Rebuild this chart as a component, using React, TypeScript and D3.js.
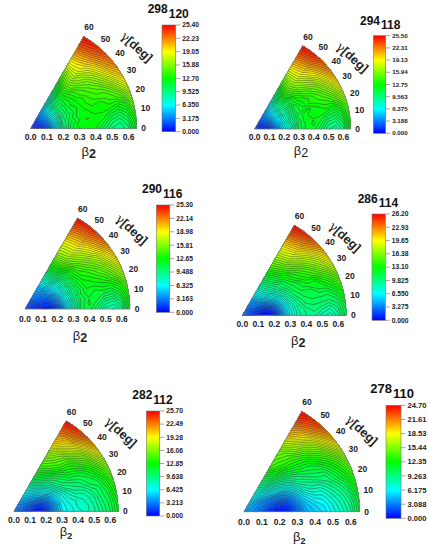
import React from 'react';
import * as d3 from 'd3';

// gamma rows 0..60 (step 5), beta columns 0..0.65 (step 0.05), energies in MeV
const betaValues = d3.range(14).map((i) => i * 0.05);
const gammaValues = d3.range(13).map((i) => i * 5);
const gammaTicks = [0, 10, 20, 30, 40, 50, 60];
const betaTicks = [0, 0.1, 0.2, 0.3, 0.4, 0.5, 0.6];

const energy298 = [
  [0.6, 0.8, 1.8, 5, 9, 11.5, 12.3, 12.6, 12.2, 11, 9.6, 9.2, 10, 12.5],
  [0.6, 0.9, 2.1, 5.6, 9.4, 11.4, 12.5, 12.4, 12.6, 11.8, 10.4, 9.8, 10.8, 13],
  [0.6, 1, 2.4, 5.8, 9.8, 11, 12.1, 12.8, 12.4, 12.6, 11.6, 11, 12, 14],
  [0.6, 1.1, 2.6, 6.2, 9.6, 11.4, 12.4, 12.3, 12.9, 12.8, 12.9, 12.4, 13.2, 15.5],
  [0.6, 1.2, 2.9, 6.4, 10, 11, 12.2, 12.7, 13.2, 12.8, 13.6, 14, 15, 17],
  [0.6, 1.3, 3.1, 6.8, 9.6, 11.4, 12, 13, 13.5, 14, 14, 15, 16.8, 18.6],
  [0.6, 1.4, 3.3, 7, 10, 11.2, 12.6, 12.8, 13.8, 14.4, 15, 16.5, 18.3, 20],
  [0.6, 1.5, 3.5, 7, 9.8, 11.6, 12.4, 13.6, 14.2, 15, 16.2, 17.8, 19.8, 21.4],
  [0.6, 1.5, 3.6, 7, 10, 11.4, 12.8, 13.8, 15, 15.8, 17.2, 19, 21, 22.6],
  [0.6, 1.5, 3.6, 6.6, 9.6, 11.6, 13.2, 14.8, 16, 16.9, 18.2, 20, 22, 23.6],
  [0.6, 1.5, 3.6, 6.4, 9.2, 11.4, 13.4, 15.2, 16.8, 18.2, 19.3, 21, 23, 24.5],
  [0.6, 1.5, 3.5, 5.8, 8, 10.2, 12.4, 14.6, 16.6, 18.4, 19.8, 21.6, 23.6, 25],
  [0.6, 1.5, 3.4, 5, 6.5, 9, 11, 13.4, 15.8, 18.2, 20, 22, 24, 25.4],
];
const energy294 = [
  [0.8, 0.6, 1, 3.4, 6, 8.5, 10.8, 12, 12, 10.8, 9.2, 8.8, 10, 13],
  [0.8, 0.7, 1.3, 3.8, 6.4, 8.2, 11, 11.8, 12.4, 11.4, 10, 9.6, 10.8, 13.5],
  [0.8, 0.8, 1.6, 4.2, 7, 8.8, 10.6, 12.2, 12.2, 12.2, 11.2, 10.8, 12, 14.2],
  [0.8, 0.9, 1.9, 4.6, 6.8, 9.2, 11.2, 11.9, 12.7, 12.4, 12.6, 12, 13.2, 15.2],
  [0.8, 1, 2.2, 4.8, 7.4, 9, 10.8, 12.4, 12.2, 12.8, 13.4, 13.8, 15, 16.6],
  [0.8, 1.1, 2.5, 5.2, 7.2, 9.6, 11.4, 12, 13.2, 13.6, 14, 15, 16.6, 18.4],
  [0.8, 1.2, 2.8, 5.4, 8, 9.4, 11, 12.6, 13, 13.8, 14.8, 16.2, 18, 20],
  [0.8, 1.3, 3, 5.8, 7.8, 10, 11.8, 12.8, 14, 14.8, 15.8, 17.4, 19.4, 21.4],
  [0.8, 1.4, 3.2, 5.8, 8.4, 10, 11.6, 13.6, 15, 16, 17, 18.6, 20.6, 22.6],
  [0.8, 1.5, 3.2, 5.6, 8, 10.4, 12.6, 14.4, 16, 17, 18.4, 19.8, 21.8, 23.6],
  [0.8, 1.5, 3.2, 5.4, 7.8, 10.6, 13, 15, 16.6, 18, 19.4, 21, 23, 24.6],
  [0.8, 1.5, 3.1, 5, 7, 9.6, 12, 14.4, 16.4, 18.2, 19.8, 21.6, 23.6, 25.1],
  [0.8, 1.5, 3, 4.6, 6.2, 8.6, 11, 13.6, 16, 18.2, 20, 22, 24, 25.5],
];
const energy290 = [
  [1.5, 1, 0.5, 0.5, 1.6, 5, 8.4, 11, 11.4, 10, 8.4, 8, 9.4, 12.4],
  [1.5, 1.1, 0.7, 0.8, 2, 5.4, 8.2, 10.8, 11.8, 10.8, 9.4, 9, 10.4, 13],
  [1.5, 1.2, 1, 1.2, 2.8, 5.8, 8.8, 10.6, 11.6, 11.6, 10.8, 10.6, 11.8, 13.8],
  [1.5, 1.3, 1.2, 1.6, 3.2, 6.4, 8.6, 11, 12, 11.6, 12, 12, 13, 15],
  [1.5, 1.4, 1.6, 2.2, 3.8, 6.6, 9.4, 10.8, 12.2, 12.4, 12.8, 13.6, 15, 16.6],
  [1.5, 1.5, 1.8, 2.6, 4.4, 7.2, 9.2, 11.4, 12.4, 13, 13.8, 14.8, 16.4, 18.3],
  [1.5, 1.6, 2.2, 3.2, 5.2, 7.2, 9.8, 11.4, 13, 13.6, 14.6, 16, 18, 20],
  [1.5, 1.7, 2.4, 3.4, 5.4, 7.8, 9.8, 12, 13.4, 14.6, 15.8, 17.2, 19.2, 21.2],
  [1.5, 1.8, 2.8, 3.8, 5.8, 8, 10.4, 12.2, 14, 15.6, 17, 18.6, 20.6, 22.5],
  [1.5, 2, 3, 4, 6.2, 8.8, 11, 13.2, 15.2, 16.6, 18, 19.6, 21.6, 23.5],
  [1.5, 2.1, 3.2, 4.4, 6.8, 9.2, 11.8, 14, 16, 17.6, 19, 20.6, 22.6, 24.5],
  [1.5, 2.1, 3.2, 4.6, 6.8, 9.4, 12, 14.4, 16.4, 17.8, 19.3, 21, 23, 24.9],
  [1.5, 2.1, 3.2, 4.8, 6.8, 9.4, 12.2, 14.6, 16.6, 18, 19.6, 21.6, 23.6, 25.3],
];
const energy286 = [
  [2.5, 1.5, 0.8, 0.2, 0.9, 4.2, 7, 8.6, 9.4, 9.6, 8.6, 8, 9.2, 11.4],
  [2.5, 1.6, 0.9, 0.3, 1.2, 4.4, 7, 8.8, 9.6, 10.2, 9.6, 9, 10, 11.8],
  [2.5, 1.8, 1.1, 0.7, 1.8, 4.8, 7.4, 9, 10.4, 10.6, 10.6, 10.4, 11, 12.8],
  [2.5, 1.9, 1.3, 1.3, 2.6, 5.2, 8, 9.6, 10.8, 11.2, 11.2, 11.2, 12.2, 14],
  [2.5, 2, 1.7, 2.2, 3.8, 6, 8.4, 10.4, 11.2, 11.2, 12.2, 12.6, 13.6, 15.2],
  [2.5, 2.1, 2.2, 3, 4.8, 6.8, 9, 10.8, 11.8, 12.4, 12.4, 13.8, 15.2, 17.2],
  [2.5, 2.2, 2.7, 3.8, 5.8, 7.8, 9.6, 11.2, 12, 13.2, 14.2, 15.4, 17, 19],
  [2.5, 2.4, 3, 4.6, 6.4, 8.4, 10.4, 11.6, 13, 14, 15.2, 16.8, 18.4, 20.6],
  [2.5, 2.5, 3.2, 5.2, 7.4, 9.2, 10.6, 12.2, 13.6, 15, 16.6, 18, 20, 22],
  [2.5, 2.6, 3.4, 5.6, 7.8, 9.6, 11.4, 13, 14.8, 16.4, 17.8, 19.6, 21.6, 23.6],
  [2.5, 2.7, 3.7, 5.8, 8.2, 10.2, 11.8, 13.8, 15.6, 17.6, 19, 21, 23, 25],
  [2.5, 2.9, 4, 6, 8.2, 10.4, 12.4, 14.4, 16.2, 18, 19.6, 21.6, 23.8, 25.7],
  [2.5, 3, 4.2, 6.2, 8.4, 10.8, 12.8, 14.8, 16.6, 18.2, 20, 22, 24.5, 26.2],
];
const energy282 = [
  [3, 2.2, 1.2, 0.3, 1.2, 3.8, 6, 7, 7.4, 8, 8.6, 9.6, 10.8, 12.4],
  [3, 2.3, 1.4, 0.5, 1.4, 3.9, 6.4, 7, 7.8, 8, 8.8, 10, 11, 12.8],
  [3, 2.5, 1.7, 1, 1.8, 3.8, 6.4, 7.4, 7.8, 8.4, 9, 10.4, 11.4, 13.4],
  [3, 2.6, 2, 1.6, 2.4, 4.4, 6.6, 7.8, 8.6, 8.8, 9.8, 10.6, 12, 14],
  [3, 2.8, 2.4, 2.4, 3.2, 5, 7, 8.4, 9.4, 9.8, 10.8, 11.2, 12.8, 14.8],
  [3, 2.9, 2.8, 3.2, 4.2, 5.8, 7.8, 9.4, 10, 10.6, 11.2, 12.4, 14, 16],
  [3, 3, 3.3, 4, 5.4, 7, 8.8, 10.2, 11, 11.4, 12.2, 13.6, 15.6, 17.6],
  [3, 3.2, 3.7, 4.6, 6, 7.8, 9.6, 10.8, 12, 12.6, 13.6, 15, 17.2, 19.6],
  [3, 3.3, 4.1, 5.2, 6.8, 8.8, 10.2, 11.6, 13, 13.6, 15, 16.6, 19, 21.6],
  [3, 3.4, 4.4, 5.8, 7.6, 9.6, 11.2, 13, 14.2, 14.8, 16.6, 18.4, 20.8, 23.2],
  [3, 3.5, 4.7, 6.4, 8.4, 10.4, 12.2, 14, 15, 16, 18, 20, 22.5, 24.5],
  [3, 3.6, 5, 6.9, 9, 11.2, 13, 14.6, 15.8, 17.2, 19.4, 21, 23.4, 25.2],
  [3, 3.7, 5.2, 7.2, 9.4, 11.8, 13.6, 15, 16.6, 18.6, 20.6, 22, 24, 25.7],
];
const energy278 = [
  [4, 3.5, 2.5, 1.2, 0.5, 1, 2.6, 4.4, 5, 5.6, 6.6, 7.6, 8.8, 11],
  [4, 3.5, 2.6, 1.4, 0.7, 1.2, 2.9, 4.6, 5.4, 6, 7, 8, 9.2, 11.4],
  [4, 3.6, 2.8, 1.9, 1.2, 1.8, 3.4, 5.2, 6.2, 6.6, 7.6, 8.6, 9.8, 12],
  [4, 3.7, 3, 2.3, 2, 2.6, 4.2, 6, 7.2, 7.4, 8.4, 9.4, 10.8, 12.8],
  [4, 3.8, 3.2, 2.8, 2.8, 3.6, 5.2, 7.2, 8.2, 8.4, 9.4, 10.6, 12, 13.8],
  [4, 3.9, 3.4, 3.4, 3.8, 4.8, 6.4, 8.2, 9, 9.8, 10, 11.4, 13, 15],
  [4, 4, 3.7, 4.2, 5.2, 6.2, 7.6, 9.2, 10, 10.6, 11.2, 12.6, 14.2, 16.6],
  [4, 4.1, 4.2, 5, 6, 7.4, 8.8, 10, 11, 11.4, 12.6, 14, 16, 18.6],
  [4, 4.2, 4.7, 5.6, 7.2, 8.6, 10, 11.2, 12, 12.6, 14, 15.6, 18, 20.6],
  [4, 4.4, 5.2, 6.4, 8.2, 9.8, 11.2, 12.4, 13, 14, 15.4, 17.2, 19.8, 22.2],
  [4, 4.6, 5.7, 7.2, 9.2, 11, 12.4, 13.4, 14, 15.6, 17, 19, 21.5, 23.6],
  [4, 4.8, 6.2, 7.8, 9.8, 11.6, 13.4, 14, 14.8, 16.6, 18.6, 20.4, 22.6, 24.2],
  [4, 5, 6.6, 8.2, 10.2, 12.2, 14, 14.6, 15.6, 17.6, 20, 21.6, 23.6, 24.7],
];

const ticks298 = ['25.40', '22.23', '19.05', '15.88', '12.70', '9.525', '6.350', '3.175', '0.000'];
const ticks294 = ['25.50', '22.31', '19.13', '15.94', '12.75', '9.563', '6.375', '3.188', '0.000'];
const ticks290 = ['25.30', '22.14', '18.98', '15.81', '12.65', '9.488', '6.325', '3.163', '0.000'];
const ticks286 = ['26.20', '22.93', '19.65', '16.38', '13.10', '9.825', '6.550', '3.275', '0.000'];
const ticks282 = ['25.70', '22.49', '19.28', '16.06', '12.85', '9.638', '6.425', '3.213', '0.000'];
const ticks278 = ['24.70', '21.61', '18.53', '15.44', '12.35', '9.263', '6.175', '3.088', '0.000'];

const FONT = '"Liberation Sans", Arial, sans-serif';

// layout of each panel
const panels = [
  { mass: '298', sub: '120', energy: energy298, ticks: ticks298, ox: 30.7, oy: 128.4, R: 106, bar: [162, 175.7, 25, 131.7], title: [147.7, 13.3], tickDy: 9, beta: [88.7, 151], betaStyle: 'bold', gamma: [136.7, 46.7], titleSize: 12, barFont: 6.7 },
  { mass: '294', sub: '118', energy: energy294, ticks: ticks294, ox: 254.7, oy: 129, R: 96, bar: [373.3, 385.7, 35.7, 133.3], title: [360, 25], tickDy: 8.5, beta: [301, 150], betaStyle: 'plain', gamma: [352.3, 57.3], titleSize: 12, barFont: 6.2 },
  { mass: '290', sub: '116', energy: energy290, ticks: ticks290, ox: 25, oy: 309, R: 105, bar: [156.3, 169.7, 205, 312.3], title: [142, 193.3], tickDy: 9.7, beta: [80, 335.7], betaStyle: 'bold', gamma: [131.7, 229.3], titleSize: 12, barFont: 6.7 },
  { mass: '286', sub: '114', energy: energy286, ticks: ticks286, ox: 242.3, oy: 315.3, R: 104, bar: [372, 385.3, 214, 320.3], title: [357.7, 202.7], tickDy: 8.7, beta: [298.3, 340.7], betaStyle: 'bold', gamma: [345, 236.7], titleSize: 12, barFont: 6.7 },
  { mass: '282', sub: '112', energy: energy282, ticks: ticks282, ox: 14, oy: 511.3, R: 104.3, bar: [146.3, 159.7, 411, 516], title: [132.3, 399.3], tickDy: 8.7, beta: [66, 531.7], betaStyle: 'small', gamma: [121, 432], titleSize: 12, barFont: 6.7 },
  { mass: '278', sub: '110', energy: energy278, ticks: ticks278, ox: 244, oy: 511.7, R: 115.7, bar: [386, 401, 405.3, 518.3], title: [370.3, 393.3], tickDy: 10.3, beta: [299.3, 536.7], betaStyle: 'small', gamma: [361.7, 430], titleSize: 13, barFont: 7.6 },
];

const rainbow = d3
  .scaleLinear<string>()
  .domain([0, 0.25, 0.5, 0.75, 1])
  .range(['#0000ff', '#00ffff', '#00ff00', '#ffff00', '#ff0000']);

const nx = betaValues.length;
const ny = gammaValues.length;
const betaMax = betaValues[nx - 1];
const gammaMax = gammaValues[ny - 1];

// grid index -> data value
const betaOfIndex = d3.scaleLinear().domain([0, nx - 1]).range([0, betaMax]).clamp(true);
const gammaOfIndex = d3.scaleLinear().domain([0, ny - 1]).range([0, gammaMax]).clamp(true);

const Panel = ({ p, index }: { p: (typeof panels)[number]; index: number }) => {
  const max = +p.ticks[0];
  const r = d3.scaleLinear().domain([0, betaMax]).range([0, p.R]);
  const rad = (g: number) => (g * Math.PI) / 180;
  const polar = (beta: number, gamma: number): [number, number] => [
    p.ox + r(beta) * Math.cos(rad(gamma)),
    p.oy - r(beta) * Math.sin(rad(gamma)),
  ];

  // contour coordinates have the grid values at cell centres
  const project = (pt: number[]) => polar(betaOfIndex(pt[0] - 0.5), gammaOfIndex(pt[1] - 0.5));
  const segment = (a: number[], b: number[]) =>
    d3.range(1, 4).map((k) => project([a[0] + ((b[0] - a[0]) * k) / 3, a[1] + ((b[1] - a[1]) * k) / 3]));

  const flat = p.energy.flat();
  const fillStep = max / 128;
  const fills = d3.contours().size([nx, ny]).thresholds(d3.range(0, max, fillStep))(flat);
  const lines = d3.contours().size([nx, ny]).thresholds(d3.range(max / 50, max, max / 50))(flat);

  const fillPath = (g: d3.ContourMultiPolygon) =>
    g.coordinates
      .flat()
      .map((ring) => {
        const pts = [project(ring[0])];
        for (let i = 1; i < ring.length; i++) pts.push(...segment(ring[i - 1], ring[i]));
        return 'M' + pts.map((q) => q.join(',')).join('L') + 'Z';
      })
      .join('');

  const onEdge = (a: number[], b: number[]) =>
    a[0] <= 0 || a[0] >= nx || a[1] <= 0 || a[1] >= ny ||
    b[0] <= 0 || b[0] >= nx || b[1] <= 0 || b[1] >= ny;

  const linePath = (g: d3.ContourMultiPolygon) => {
    let d = '';
    g.coordinates.flat().forEach((ring) => {
      for (let i = 1; i < ring.length; i++) {
        if (onEdge(ring[i - 1], ring[i])) continue;
        const start = project(ring[i - 1]);
        d += 'M' + start.join(',') + 'L' + segment(ring[i - 1], ring[i]).map((q) => q.join(',')).join('L');
      }
    });
    return d;
  };

  const arc = d3.arc();
  const wedge =
    arc({ innerRadius: 0, outerRadius: p.R, startAngle: rad(30), endAngle: rad(90) }) || '';

  const barY = d3.scaleLinear().domain([0, max]).range([p.bar[3], p.bar[2]]);
  const gradId = `rainbow-${index}`;

  return (
    <g fontFamily={FONT}>
      <path d={wedge} transform={`translate(${p.ox},${p.oy})`} fill={rainbow(0)} />
      {fills.map((g, i) => (
        <path key={i} d={fillPath(g)} fill={rainbow((g.value + fillStep / 2) / max)} />
      ))}
      {lines.map((g, i) => (
        <path key={i} d={linePath(g)} fill="none" stroke="#333" strokeOpacity={0.8} strokeWidth={0.6} />
      ))}
      {/* polar grid */}
      {gammaTicks.slice(1, -1).map((g) => (
        <line key={g} x1={p.ox} y1={p.oy} x2={polar(betaMax, g)[0]} y2={polar(betaMax, g)[1]} stroke="#888" strokeOpacity={0.35} strokeWidth={0.5} />
      ))}
      {betaTicks.slice(1).map((b) => (
        <path key={b} d={d3.line()(d3.range(0, 61, 5).map((g) => polar(b, g))) || ''} fill="none" stroke="#888" strokeOpacity={0.35} strokeWidth={0.5} />
      ))}
      <path d={wedge} transform={`translate(${p.ox},${p.oy})`} fill="none" stroke="#777" strokeWidth={0.8} />

      {betaTicks.map((b) => (
        <text key={b} x={p.ox + r(b)} y={p.oy + p.tickDy} dy=".35em" textAnchor="middle" fontSize={8.5} fontWeight="bold" fill="#222">
          {b.toFixed(1)}
        </text>
      ))}
      {gammaTicks.map((g) => {
        const q = polar(betaMax, g);
        const off = g === 0 ? 7 : 10.5;
        return (
          <text key={g} x={q[0] + off * Math.cos(rad(g))} y={q[1] - off * Math.sin(rad(g))} dy=".35em" textAnchor="middle" fontSize={8.5} fontWeight="bold" fill="#222">
            {g}
          </text>
        );
      })}

      <text x={p.beta[0]} y={p.beta[1]} dy=".35em" textAnchor="middle" fontSize={13} fill="#222">
        <tspan fontWeight="normal">β</tspan>
        <tspan dy={p.betaStyle === 'small' ? 2.5 : 2} fontWeight={p.betaStyle === 'plain' ? 'normal' : 'bold'} fontSize={p.betaStyle === 'small' ? 9 : 12.5}>2</tspan>
      </text>
      <text transform={`translate(${p.gamma[0]},${p.gamma[1]}) rotate(42)`} dy=".35em" textAnchor="middle" fontSize={12.5} fontWeight="bold" fill="#222">
        <tspan fontFamily='"DejaVu Serif", serif' fontWeight="normal">γ</tspan>[deg]
      </text>

      <text x={p.title[0]} y={p.title[1]} fontSize={p.titleSize} fontWeight="bold" fill="#111">
        {p.mass}
        <tspan dy={4.4} dx={1}>{p.sub}</tspan>
      </text>

      <defs>
        <linearGradient id={gradId} x1="0" x2="0" y1="1" y2="0">
          {rainbow.domain().map((d) => (
            <stop key={d} offset={d} stopColor={rainbow(d)} />
          ))}
        </linearGradient>
      </defs>
      <rect x={p.bar[0]} y={p.bar[2]} width={p.bar[1] - p.bar[0]} height={p.bar[3] - p.bar[2]} fill={`url(#${gradId})`} stroke="#777" strokeWidth={0.6} />
      {p.ticks.map((t) => (
        <g key={t}>
          <line x1={p.bar[1]} x2={p.bar[1] + 4.5} y1={barY(+t)} y2={barY(+t)} stroke="#666" strokeWidth={0.6} />
          <text x={p.bar[1] + 6.5} y={barY(+t)} dy=".35em" fontSize={p.barFont} fontWeight="bold" fill="#222">
            {t}
          </text>
        </g>
      ))}
    </g>
  );
};

export default function App() {
  return (
    <svg width={428} height={546} style={{ position: 'absolute', left: 0, top: 0, background: '#fff' }}>
      {panels.map((p, i) => (
        <Panel key={p.mass} p={p} index={i} />
      ))}
    </svg>
  );
}
